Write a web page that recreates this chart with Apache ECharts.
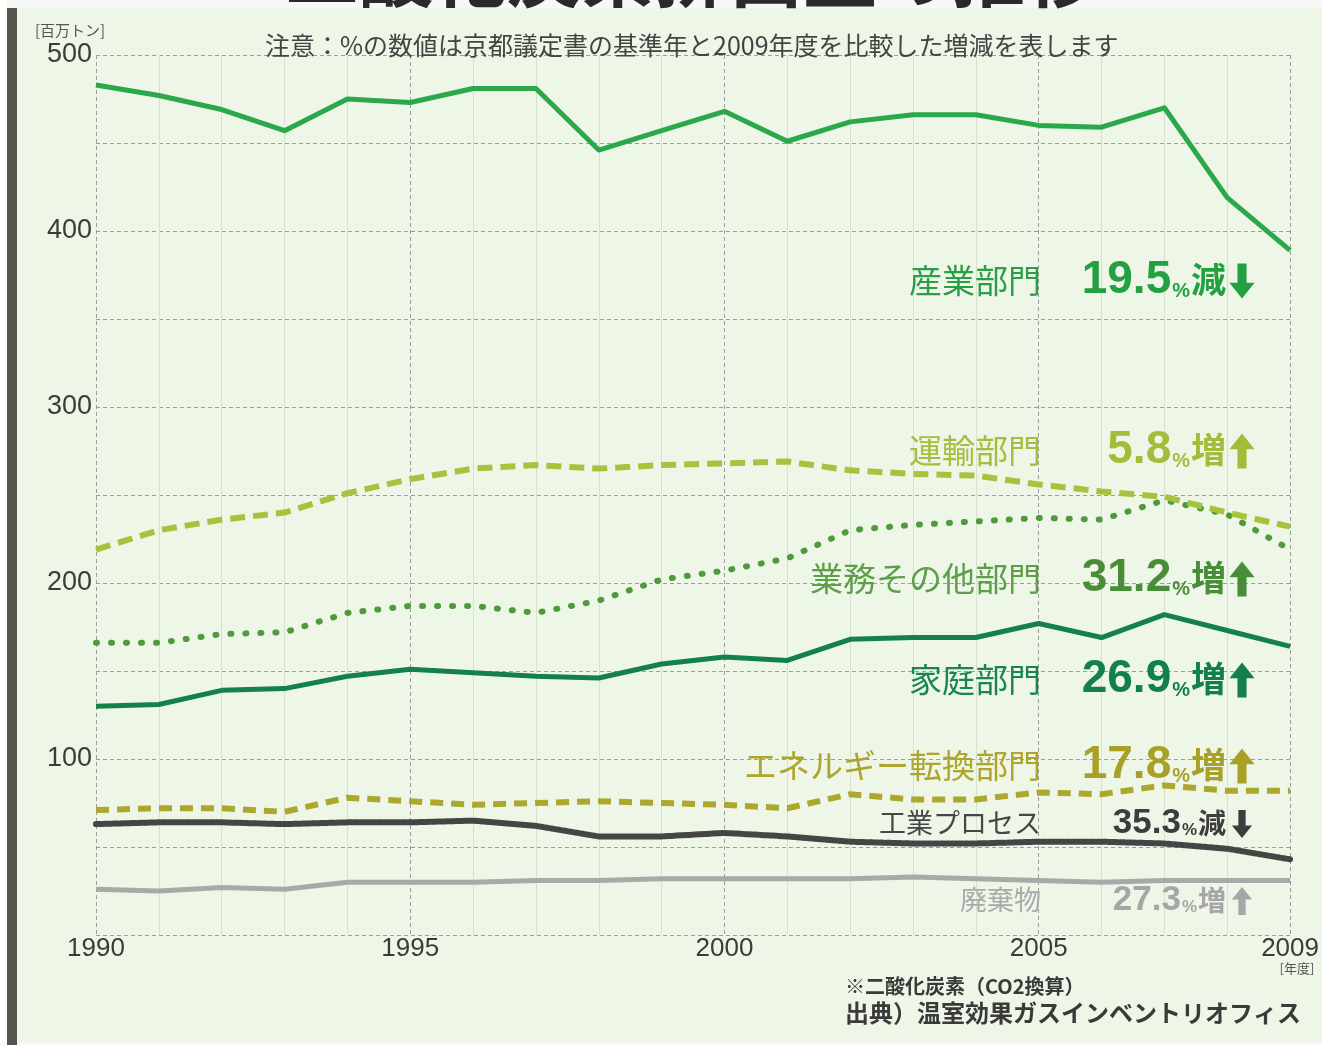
<!DOCTYPE html>
<html>
<head>
<meta charset="utf-8">
<script src="https://cdn.jsdelivr.net/npm/echarts@6/dist/echarts.min.js"></script>
<style>
  html, body { margin: 0; padding: 0; background: #ffffff; }
  #chart { width: 1322px; height: 1045px; }
</style>
</head>
<body>
<div id="chart"></div>
<script>
// 年度
const years = [1990, 1991, 1992, 1993, 1994, 1995, 1996, 1997, 1998, 1999,
  2000, 2001, 2002, 2003, 2004, 2005, 2006, 2007, 2008, 2009];
// 各部門の排出量（百万トン）
const sangyo = [483, 477, 469, 457, 475, 473, 481, 481, 446, 457, 468, 451, 462, 466, 466, 460, 459, 470, 419, 389];
const unyu = [219, 230, 236, 240, 251, 259, 265, 267, 265, 267, 268, 269, 264, 262, 261, 256, 252, 249, 240, 232];
const gyomu = [166, 166, 171, 172, 183, 187, 187, 183, 190, 202, 207, 214, 230, 233, 235, 237, 236, 247, 239, 219];
const katei = [130, 131, 139, 140, 147, 151, 149, 147, 146, 154, 158, 156, 168, 169, 169, 177, 169, 182, 173, 164];
const energy = [71, 72, 72, 70, 78, 76, 74, 75, 76, 75, 74, 72, 80, 77, 77, 81, 80, 85, 82, 82];
const kogyo = [63, 64, 64, 63, 64, 64, 65, 62, 56, 56, 58, 56, 53, 52, 52, 53, 53, 52, 49, 43];
const haiki = [26, 25, 27, 26, 30, 30, 30, 31, 31, 32, 32, 32, 32, 33, 32, 31, 30, 31, 31, 31];
// 注記（部門名・増減率・増減）
const names = ["産業部門", "運輸部門", "業務その他部門", "家庭部門", "エネルギー転換部門", "工業プロセス", "廃棄物"];
const rates = ["19.5", "5.8", "31.2", "26.9", "17.8", "35.3", "27.3"];
const changes = ["減", "増", "増", "増", "増", "減", "増"];

const JP = "'Noto Sans CJK JP', sans-serif";
const NUM = "'Liberation Sans', 'Noto Sans CJK JP', sans-serif";

const chart = echarts.init(document.getElementById("chart"));

function toPairs(arr) {
  return years.map((y, i) => [y, arr[i]]);
}

// 線のスタイル
function line(name, data, color, width, type, cap) {
  return {
    name: name,
    type: "line",
    data: toPairs(data),
    symbol: "none",
    silent: true,
    lineStyle: { color: color, width: width, type: type, cap: cap || "butt", join: "round" },
  };
}

// 太い矢印（増減の記号）
function arrow(cx, cy, down, size, color) {
  const h = size, hw = size * 0.36, sw = size * 0.13, hh = size * 0.45;
  let pts;
  if (down) {
    pts = [[cx - sw, cy - h / 2], [cx + sw, cy - h / 2], [cx + sw, cy + h / 2 - hh], [cx + hw, cy + h / 2 - hh],
      [cx, cy + h / 2], [cx - hw, cy + h / 2 - hh], [cx - sw, cy + h / 2 - hh]];
  } else {
    pts = [[cx - sw, cy + h / 2], [cx + sw, cy + h / 2], [cx + sw, cy - h / 2 + hh], [cx + hw, cy - h / 2 + hh],
      [cx, cy - h / 2], [cx - hw, cy - h / 2 + hh], [cx - sw, cy - h / 2 + hh]];
  }
  return { type: "polygon", z: 100, shape: { points: pts }, style: { fill: color } };
}

// 注記テキスト：y は画面上の中心位置
const noteY = [280, 450, 578, 679, 765, 823, 900];
const noteColor = ["#2c9e47", "#a6bd40", "#5c9f48", "#1a8550", "#ada52c", "#464646", "#a9a9a9"];
const valueColor = ["#23a042", "#a3bd3a", "#4a8d38", "#13804a", "#a9a127", "#3d3d3d", "#a6a6a6"];

const notes = [];
names.forEach((n, i) => {
  const small = i >= 5;
  notes.push({
    type: "text",
    z: 100,
    style: {
      text: n,
      x: 1041,
      y: noteY[i],
      align: "right",
      verticalAlign: "middle",
      textAlign: "right",
      textVerticalAlign: "middle",
      font: (small ? "27px " : "33px ") + JP,
      fill: noteColor[i],
    },
  });
  notes.push({
    type: "text",
    z: 100,
    style: {
      text: "{n|" + rates[i] + "}{p|%}{k|" + changes[i] + "}",
      x: 1226,
      y: noteY[i],
      align: "right",
      verticalAlign: "middle",
      textAlign: "right",
      textVerticalAlign: "middle",
      fill: valueColor[i],
      rich: {
        n: { fontSize: small ? 35 : 46, fontWeight: "bold", fontFamily: NUM, fill: valueColor[i] },
        p: { fontSize: small ? 17 : 20, fontWeight: "bold", fontFamily: NUM, fill: valueColor[i], verticalAlign: "bottom", padding: [0, 1, 2, 1] },
        k: { fontSize: small ? 28 : 35, fontWeight: "bold", fontFamily: JP, fill: valueColor[i] },
      },
    },
  });
  notes.push(arrow(1242, noteY[i] + 1, changes[i] === "減", small ? 28 : 35, valueColor[i]));
});

// 年ごとの細い縦線（5年ごとの線は破線側で描く）
const minorColors = years.map((y) => ((y - 1990) % 5 === 0 || y === 2009 ? "rgba(0,0,0,0)" : "#d6e2cd"));

const option = {
  backgroundColor: "#eef6e8",
  animation: false,
  grid: { left: 96, top: 55, width: 1200, height: 880, containLabel: false },
  xAxis: [
    {
      type: "value",
      min: 1990,
      max: 2009,
      interval: 5,
      axisLine: { show: false },
      axisTick: { show: false },
      axisLabel: { color: "#3b3b3b", fontSize: 26, fontFamily: NUM, margin: 1, formatter: (v) => v },
      splitLine: { show: true, lineStyle: { color: "#9c9c9c", type: [4, 3], width: 1 } },
    },
    {
      type: "value",
      min: 1990,
      max: 2009,
      interval: 1,
      axisLine: { show: false },
      axisTick: { show: false },
      axisLabel: { show: false },
      splitLine: { show: true, lineStyle: { color: minorColors, width: 1 } },
    },
  ],
  yAxis: {
    type: "value",
    min: 0,
    max: 500,
    interval: 50,
    axisLine: { show: false },
    axisTick: { show: false },
    axisLabel: {
      color: "#3b3b3b",
      fontSize: 27,
      fontFamily: NUM,
      margin: 4,
      formatter: (v) => (v % 100 === 0 && v > 0 ? v : ""),
    },
    splitLine: { show: true, lineStyle: { color: "#9c9c9c", type: [4, 3], width: 1 } },
  },
  series: [
    line("廃棄物", haiki, "#a9a9a9", 5, "solid"),
    line("工業プロセス", kogyo, "#454545", 6, [4, 2], "round"),
    line("エネルギー転換部門", energy, "#aba82d", 6, [13, 8]),
    line("家庭部門", katei, "#14804a", 5, "solid"),
    line("業務その他部門", gyomu, "#4f9a3b", 6, [1, 14], "round"),
    line("運輸部門", unyu, "#a7c33d", 6, [15, 8]),
    line("産業部門", sangyo, "#2ba84a", 5, "solid"),
  ],
  graphic: [
    // 枠まわり
    { type: "rect", z: -10, shape: { x: 0, y: 0, width: 1322, height: 8 }, style: { fill: "#f7f7f5" } },
    { type: "rect", z: -10, shape: { x: 0, y: 0, width: 7, height: 1045 }, style: { fill: "#ffffff" } },
    { type: "rect", z: 50, shape: { x: 7, y: 8, width: 10, height: 1037 }, style: { fill: "#55574f" } },
    { type: "rect", z: -10, shape: { x: 0, y: 1042, width: 1322, height: 3 }, style: { fill: "#f7f7f5" } },
    // 上で切れているタイトル
    {
      type: "text",
      z: 100,
      style: {
        text: "二酸化炭素排出量の推移",
        x: 692,
        y: -64,
        align: "center",
        verticalAlign: "top",
        textAlign: "center",
        textVerticalAlign: "top",
        font: "bold 74px " + JP,
        fill: "#2a2a2a",
      },
    },
    {
      type: "text",
      z: 100,
      style: { text: "[百万トン]", x: 35, y: 30, verticalAlign: "middle", textVerticalAlign: "middle", font: "15px " + JP, fill: "#555" },
    },
    {
      type: "text",
      z: 100,
      style: {
        text: "注意：%の数値は京都議定書の基準年と2009年度を比較した増減を表します",
        x: 265,
        y: 45,
        verticalAlign: "middle",
        textVerticalAlign: "middle",
        font: "25px " + JP,
        fill: "#444",
      },
    },
    {
      type: "text",
      z: 100,
      style: { text: "[年度]", x: 1297, y: 968, align: "center", textAlign: "center", verticalAlign: "middle", textVerticalAlign: "middle", font: "13px " + JP, fill: "#555" },
    },
    {
      type: "text",
      z: 100,
      style: { text: "※二酸化炭素（CO2換算）", x: 845, y: 986, verticalAlign: "middle", textVerticalAlign: "middle", font: "bold 20px " + JP, fill: "#3a3a3a" },
    },
    {
      type: "text",
      z: 100,
      style: { text: "出典）温室効果ガスインベントリオフィス", x: 845, y: 1013, verticalAlign: "middle", textVerticalAlign: "middle", font: "bold 24px " + JP, fill: "#3a3a3a" },
    },
  ].concat(notes),
};

chart.setOption(option);
</script>
</body>
</html>
